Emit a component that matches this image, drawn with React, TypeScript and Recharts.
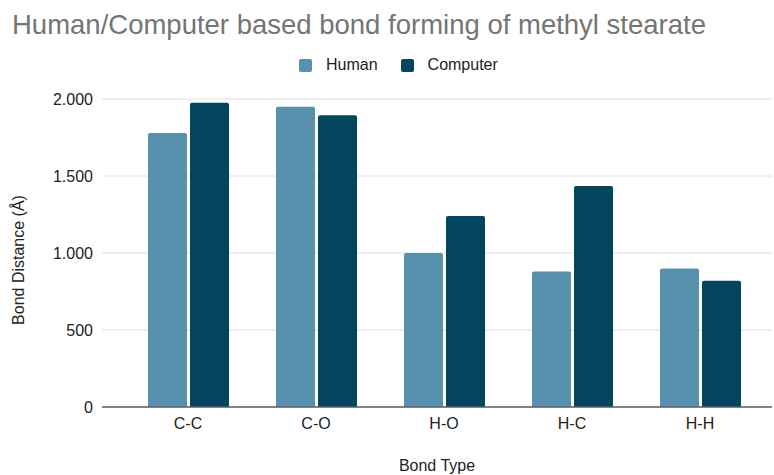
import React from 'react';
import { BarChart, Bar, XAxis, YAxis, CartesianGrid, Legend, Label } from 'recharts';

const bondTypes = ['C-C', 'C-O', 'H-O', 'H-C', 'H-H'];
const humanValues = [1780, 1950, 1000, 880, 900];
const computerValues = [1975, 1895, 1240, 1435, 820];
const yTicks = [0, 500, 1000, 1500, 2000];
const seriesOrder = ['human', 'computer'];

const data = bondTypes.map((bond, i) => ({
  bond,
  human: humanValues[i],
  computer: computerValues[i],
}));

const FONT = "'Liberation Sans', Arial, sans-serif";
const HUMAN_COLOR = '#5891AE';
const COMPUTER_COLOR = '#03445E';

// 2000 -> "2.000"
const formatTick = (v: number) =>
  v >= 1000 ? `${Math.floor(v / 1000)}.${String(v % 1000).padStart(3, '0')}` : String(v);

const LegendContent = ({ payload }: any) => {
  const items = [...(payload || [])].sort(
    (a: any, b: any) => seriesOrder.indexOf(a.dataKey) - seriesOrder.indexOf(b.dataKey)
  );
  return (
    <div style={{ display: 'flex', alignItems: 'center', height: 24, paddingLeft: 299, fontFamily: FONT, fontSize: 16, color: '#222' }}>
      {items.map((p: any) => (
        <div key={p.value} style={{ display: 'flex', alignItems: 'center', marginRight: 23 }}>
          <span style={{ width: 13, height: 13, borderRadius: 2, backgroundColor: p.color, marginRight: 14 }} />
          <span>{p.value}</span>
        </div>
      ))}
    </div>
  );
};

const YTitle = ({ viewBox }: any) => {
  const cy = viewBox.y + viewBox.height / 2 + 7;
  const x = 24;
  return (
    <text x={x} y={cy} transform={`rotate(-90 ${x} ${cy})`} textAnchor="middle" fontFamily={FONT} fontSize={16} fill="#222">
      Bond Distance (Å)
    </text>
  );
};

const App: React.FC = () => {
  return (
    <div style={{ position: 'fixed', left: 0, top: 0, width: 774, height: 475, background: '#fff' }}>
      <div
        style={{
          position: 'absolute',
          left: 12,
          top: 11,
          fontFamily: FONT,
          fontSize: 27.5,
          lineHeight: '27px',
          color: '#757575',
          whiteSpace: 'nowrap',
        }}
      >
        Human/Computer based bond forming of methyl stearate
      </div>
      <BarChart
        width={774}
        height={475}
        data={data}
        margin={{ top: 99, right: 2, left: 0, bottom: 0 }}
        barCategoryGap={24}
        barGap={3}
      >
        <CartesianGrid stroke="#e0e0e0" vertical={false} />
        <XAxis
          dataKey="bond"
          height={68}
          padding={{ left: 22, right: 8 }}
          axisLine={{ stroke: '#5f5f5f', strokeWidth: 1.5 }}
          tickLine={false}
          tickSize={6}
          tickMargin={5}
          tick={{ fontSize: 16, fill: '#222', fontFamily: FONT }}
        >
          <Label value="Bond Type" position="insideBottom" offset={4} fontSize={16} fill="#222" fontFamily={FONT} />
        </XAxis>
        <YAxis
          width={102}
          domain={[0, 2000]}
          ticks={yTicks}
          tickFormatter={formatTick}
          axisLine={false}
          tickLine={false}
          tickSize={6}
          tickMargin={3}
          tick={{ fontSize: 16, fill: '#222', fontFamily: FONT }}
        >
          <Label content={<YTitle />} />
        </YAxis>
        <Legend
          layout="horizontal"
          verticalAlign="middle"
          align="center"
          content={<LegendContent />}
          wrapperStyle={{ top: 53, left: 0, width: 774 }}
        />
        <Bar dataKey="human" name="Human" fill={HUMAN_COLOR} radius={[2, 2, 0, 0]} isAnimationActive={false} />
        <Bar dataKey="computer" name="Computer" fill={COMPUTER_COLOR} radius={[2, 2, 0, 0]} isAnimationActive={false} />
      </BarChart>
    </div>
  );
};

export default App;
